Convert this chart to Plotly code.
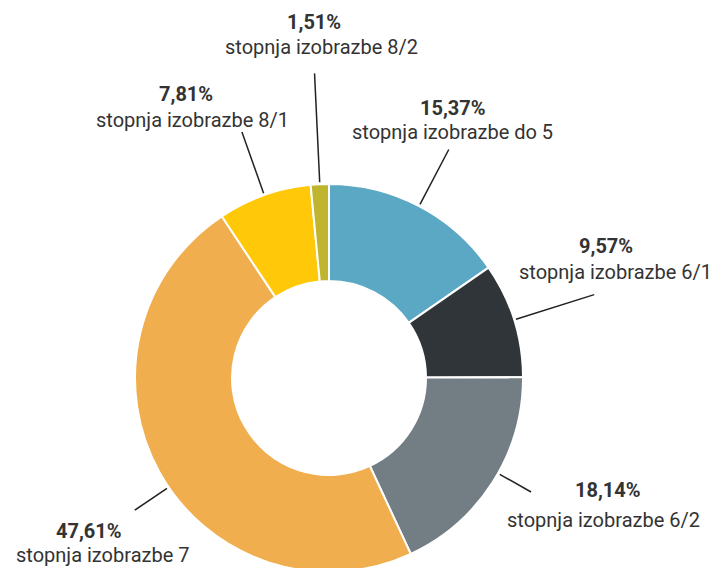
import math
import plotly.graph_objects as go

# ---- data ----
labels = ["stopnja izobrazbe do 5", "stopnja izobrazbe 6/1", "stopnja izobrazbe 6/2",
          "stopnja izobrazbe 7", "stopnja izobrazbe 8/1", "stopnja izobrazbe 8/2"]
values = [15.37, 9.57, 18.14, 47.61, 7.81, 1.51]
value_text = ["15,37%", "9,57%", "18,14%", "47,61%", "7,81%", "1,51%"]

# ---- styles ----
colors = ["#5BA8C4", "#2F3538", "#737E84", "#F0AE4F", "#FFC90A", "#BFB52F"]
W, H = 718, 568
OFF = 8                              # page body margin offset
CX, CY, R = 329, 378, 194            # pie centre / radius in screen pixels
leader_out = [258, 278, 232, 235, 261, 305]   # leader line outer radius (px)
leader_adj = [0, 0, -3, -5, 0, 0]             # leader angle tweak (deg)
leader_in = 196
# label offsets from leader end (screen px, +y down): (line1 dx, dy, line2 dx, dy)
label_off = [(4, -41, 3.5, -17),
             (12, -49, 21, -23),
             (77, -2, 72.5, 28),
             (-45.5, 21, -32.5, 45),
             (-55.5, -37.5, -49.5, -12),
             (-1, -51, 7, -26.5)]
FONT = "Roboto, sans-serif"

def px2paper(x, y):
    return (x - OFF) / W, 1 - (y - OFF) / H

dx0, dy1 = px2paper(CX - R, CY - R)
dx1, dy0 = px2paper(CX + R, CY + R)
fig = go.Figure(go.Pie(
    labels=labels, values=values, sort=False, direction="clockwise", rotation=0,
    hole=0.5, textinfo="none", hoverinfo="label+percent",
    marker=dict(colors=colors, line=dict(color="white", width=2)),
    domain=dict(x=[dx0, dx1], y=[max(dy0, 0), dy1]),
    showlegend=False,
))

total = sum(values)
cum = 0
shapes, annotations = [], []
for i, v in enumerate(values):
    mid = (cum + v / 2) / total * 2 * math.pi + math.radians(leader_adj[i])
    cum += v
    sx, sy = CX + leader_in * math.sin(mid), CY - leader_in * math.cos(mid)
    ex, ey = CX + leader_out[i] * math.sin(mid), CY - leader_out[i] * math.cos(mid)
    x0, y0 = px2paper(sx, sy)
    x1, y1 = px2paper(ex, ey)
    shapes.append(dict(type="line", xref="paper", yref="paper", x0=x0, y0=y0, x1=x1, y1=y1,
                       line=dict(color="#222222", width=1.5)))
    a, b, c, d = label_off[i]
    annotations.append(dict(
        xref="paper", yref="paper", x=x1, y=y1, xanchor="center", yanchor="middle",
        xshift=a, yshift=-b, showarrow=False,
        text=f"<b>{value_text[i]}</b>",
        font=dict(family=FONT, size=20, color="#333333"),
    ))
    annotations.append(dict(
        xref="paper", yref="paper", x=x1, y=y1, xanchor="center", yanchor="middle",
        xshift=c, yshift=-d, showarrow=False,
        text=labels[i],
        font=dict(family=FONT, size=20, color="#333333"),
    ))

fig.update_layout(
    width=W, height=H, margin=dict(l=0, r=0, t=0, b=0),
    paper_bgcolor="white", plot_bgcolor="white",
    shapes=shapes, annotations=annotations,
)
fig.write_html("out.html")
